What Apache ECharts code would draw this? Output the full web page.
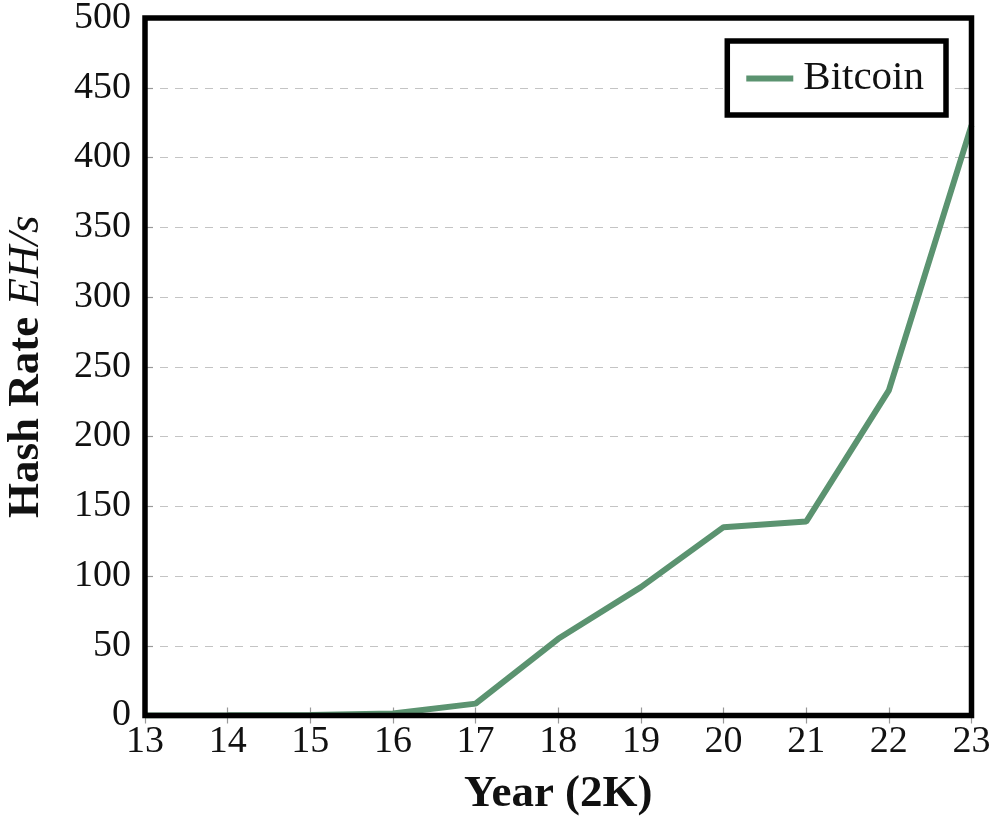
<!DOCTYPE html>
<html>
<head>
<meta charset="utf-8">
<script src="https://cdn.jsdelivr.net/npm/echarts@6/dist/echarts.min.js"></script>
<style>
html,body{margin:0;padding:0;background:#fff;}
#chart{width:993px;height:816px;}
</style>
</head>
<body>
<div id="chart"></div>
<script>
const years = [13, 14, 15, 16, 17, 18, 19, 20, 21, 22, 23];
const bitcoinHashRate = [0.01, 0.1, 0.4, 1.5, 8.5, 55, 92, 135, 139, 233, 423];
const yTicks = [0, 50, 100, 150, 200, 250, 300, 350, 400, 450, 500];
const seriesName = 'Bitcoin';

const FONT = 'Liberation Serif';
const chart = echarts.init(document.getElementById('chart'));
const points = years.map((y, i) => [y, bitcoinHashRate[i]]);

const tickStyle = { show: true, inside: true, length: 8, lineStyle: { color: '#999', width: 1.2 } };

chart.setOption({
  animation: false,
  backgroundColor: '#fff',
  textStyle: { fontFamily: FONT },
  grid: {
    left: 145, right: 21.5, top: 18, bottom: 100.5,
    containLabel: false, outerBoundsMode: 'none',
    show: true, borderColor: '#000', borderWidth: 5.5, backgroundColor: 'transparent', z: 10
  },
  legend: {
    show: true,
    data: [seriesName],
    right: 47, top: 41,
    orient: 'horizontal',
    backgroundColor: '#fff',
    borderColor: '#000', borderWidth: 5.5,
    borderRadius: 0,
    padding: [17, 22, 16, 19],
    itemWidth: 47, itemHeight: 6,
    icon: 'rect',
    itemGap: 10,
    textStyle: { fontFamily: FONT, fontSize: 41, color: '#111', padding: [0, 0, 0, 5] }
  },
  xAxis: [{
    type: 'value', min: 13, max: 23, interval: 1,
    axisLine: { show: false },
    axisTick: tickStyle,
    splitLine: { show: false },
    axisLabel: { fontFamily: FONT, fontSize: 38, color: '#111', margin: 8 },
    name: 'Year (2K)', nameLocation: 'middle', nameGap: 56,
    nameTextStyle: { fontFamily: FONT, fontSize: 45, fontWeight: 'bold', color: '#111' }
  }, {
    type: 'value', min: 13, max: 23, interval: 1, position: 'top',
    axisLine: { show: false }, axisTick: tickStyle, axisLabel: { show: false }, splitLine: { show: false }
  }],
  yAxis: [{
    type: 'value', min: 0, max: 500, interval: 50,
    axisLine: { show: false },
    axisTick: tickStyle,
    splitLine: { show: true, lineStyle: { color: '#c4c4c4', width: 1.2, type: [8, 7] } },
    axisLabel: { fontFamily: FONT, fontSize: 38, color: '#111', margin: 14,
      formatter: v => yTicks.includes(v) ? String(v) : '' },
    name: '{b|Hash Rate }{i|EH/s}', nameLocation: 'middle', nameGap: 96, nameRotate: 90,
    nameTextStyle: {
      rich: {
        b: { fontFamily: FONT, fontSize: 45, fontWeight: 'bold', color: '#111' },
        i: { fontFamily: FONT, fontSize: 45, fontStyle: 'italic', color: '#111' }
      }
    }
  }, {
    type: 'value', min: 0, max: 500, interval: 50, position: 'right',
    axisLine: { show: false }, axisTick: tickStyle, axisLabel: { show: false }, splitLine: { show: false }
  }],
  series: [{
    name: seriesName,
    type: 'line',
    data: points,
    symbol: 'none',
    lineStyle: { color: '#5b9370', width: 6 },
    itemStyle: { color: '#5b9370' },
    z: 5
  }]
});
</script>
</body>
</html>
